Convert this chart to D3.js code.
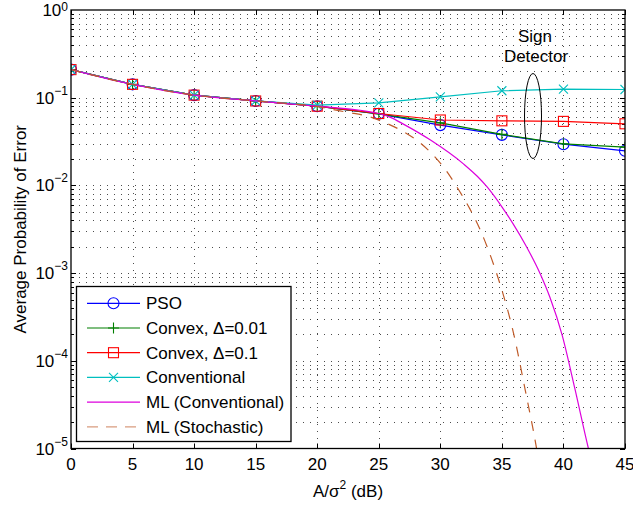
<!DOCTYPE html>
<html>
<head>
<meta charset="utf-8">
<script src="https://cdnjs.cloudflare.com/ajax/libs/d3/7.8.5/d3.min.js"></script>
<style>
  html, body { margin: 0; padding: 0; background: #fff; }
  svg { display: block; font-family: "Liberation Sans", Arial, Helvetica, sans-serif; }
</style>
</head>
<body>
<svg id="chart" width="633" height="507"></svg>
<script>
// ---------- data ----------
const snr = [0, 5, 10, 15, 20, 25, 30, 35, 40, 45];
const pso = [0.209, 0.142, 0.107, 0.0918, 0.080, 0.0655, 0.0487, 0.0377, 0.0295, 0.0248];
const convex001 = [0.209, 0.142, 0.107, 0.0918, 0.080, 0.0655, 0.0517, 0.0382, 0.0298, 0.0273];
const convex01 = [0.209, 0.142, 0.107, 0.0918, 0.080, 0.066, 0.0557, 0.0545, 0.0537, 0.0504];
const conventional = [0.209, 0.142, 0.107, 0.0918, 0.0824, 0.0875, 0.102, 0.120, 0.125, 0.124];

const mlConvX = [0, 5, 10, 15, 20, 25, 26, 27, 29.2, 31.9, 33.0, 33.8, 35.0, 35.9, 37.0, 38.1, 38.9, 39.9, 40.9, 42.0, 42.3];
const mlConvY = [0.209, 0.142, 0.107, 0.0918, 0.080, 0.066, 0.0593, 0.050, 0.0329, 0.0175, 0.0127, 0.0096, 0.0057, 0.00367, 0.0020, 9.9e-4, 5.3e-4, 1.95e-4, 5.0e-5, 1.04e-5, 7e-6];

const mlStochX = [0, 5, 10, 15, 20, 22.5, 24, 25.5, 27, 28.3, 29.3, 30.5, 31.6, 32.4, 33.2, 33.8, 34.4, 35.0, 35.9, 36.9, 37.8, 38.0];
const mlStochY = [0.209, 0.142, 0.107, 0.0918, 0.079, 0.068, 0.062, 0.052, 0.041, 0.031, 0.0231, 0.0146, 0.0084, 0.0054, 0.0032, 0.0020, 0.00117, 6.4e-4, 2.2e-4, 4.6e-5, 1.03e-5, 7e-6];

const xTicks = [0, 5, 10, 15, 20, 25, 30, 35, 40, 45];
const yTickExps = [0, -1, -2, -3, -4, -5];

const legendLabels = ["PSO", "Convex, \u0394=0.01", "Convex, \u0394=0.1", "Conventional", "ML (Conventional)", "ML (Stochastic)"];
const colors = ["#0000ff", "#007f00", "#ff0000", "#00bfbf", "#dd00dd", "#bf5a28"];
const markers = ["circle", "plus", "square", "cross", "none", "none"];

// ---------- layout ----------
const L = 71, R = 625, T = 10, B = 448.5;
const svg = d3.select("#chart");
const x = d3.scaleLinear().domain([0, 45]).range([L, R]);
const y = d3.scaleLog().domain([1e-5, 1]).range([B, T]);

// clip
svg.append("defs").append("clipPath").attr("id", "clip")
  .append("rect").attr("x", L).attr("y", T).attr("width", R - L).attr("height", B - T);

// ---------- grid ----------
const grid = svg.append("g").attr("stroke", "#000").attr("stroke-width", 1)
  .attr("stroke-dasharray", "1,6").attr("stroke-opacity", 0.7);
xTicks.slice(1, -1).forEach(t => {
  grid.append("line").attr("x1", Math.round(x(t)) + 0.5).attr("x2", Math.round(x(t)) + 0.5)
    .attr("y1", T + 1).attr("y2", B);
});
const yGridVals = [];
for (let e = -5; e < 0; e++) for (let m = 1; m <= 9; m++) yGridVals.push(m * Math.pow(10, e));
yGridVals.filter(v => v > 1e-5 * 1.0001).forEach(v => {
  grid.append("line").attr("x1", L + 1).attr("x2", R)
    .attr("y1", Math.round(y(v)) + 0.5).attr("y2", Math.round(y(v)) + 0.5);
});

// ---------- axes ticks ----------
const ticks = svg.append("g").attr("stroke", "#000").attr("stroke-width", 1);
xTicks.forEach(t => {
  const px = Math.round(x(t)) + 0.5;
  ticks.append("line").attr("x1", px).attr("x2", px).attr("y1", B).attr("y2", B - 5);
  ticks.append("line").attr("x1", px).attr("x2", px).attr("y1", T).attr("y2", T + 5);
});
yGridVals.forEach(v => {
  const py = Math.round(y(v)) + 0.5;
  const major = Math.abs(Math.log10(v) - Math.round(Math.log10(v))) < 1e-6;
  const len = major ? 5 : 3;
  ticks.append("line").attr("x1", L).attr("x2", L + len).attr("y1", py).attr("y2", py);
  ticks.append("line").attr("x1", R).attr("x2", R - len).attr("y1", py).attr("y2", py);
});

// x tick labels
svg.append("g").selectAll("text").data(xTicks).join("text")
  .attr("x", d => x(d)).attr("y", 470).attr("text-anchor", "middle")
  .attr("font-size", 17).attr("fill", "#000").text(d => d);

// y tick labels
const yl = svg.append("g");
yTickExps.forEach(e => {
  const t = yl.append("text").attr("x", 68).attr("y", y(Math.pow(10, e)) + 6)
    .attr("text-anchor", "end").attr("font-size", 17).attr("fill", "#000");
  t.append("tspan").text("10");
  t.append("tspan").attr("dy", e === 0 ? -5 : -9).attr("font-size", 12).text(e === 0 ? "0" : "\u2212" + (-e));
});

// axis labels
const xl = svg.append("text").attr("x", (L + R) / 2).attr("y", 497).attr("text-anchor", "middle")
  .attr("font-size", 17).attr("fill", "#000");
xl.append("tspan").text("A/\u03c3");
xl.append("tspan").attr("dy", -8).attr("font-size", 12).text("2");
xl.append("tspan").attr("dy", 8).text(" (dB)");

svg.append("text").attr("transform", `translate(26,${(T + B) / 2}) rotate(-90)`)
  .attr("text-anchor", "middle").attr("font-size", 17).attr("fill", "#000")
  .text("Average Probability of Error");

// ---------- series ----------
const plot = svg.append("g").attr("clip-path", "url(#clip)");
const lineGen = d3.line().x(d => x(d[0])).y(d => y(d[1]));
const smoothGen = d3.line().x(d => x(d[0])).y(d => y(d[1])).curve(d3.curveMonotoneX);

function drawMarker(g, type, cx, cy, color) {
  if (type === "circle") {
    g.append("circle").attr("cx", cx).attr("cy", cy).attr("r", 5.5)
      .attr("fill", "none").attr("stroke", color).attr("stroke-width", 1.1);
  } else if (type === "square") {
    g.append("rect").attr("x", cx - 5).attr("y", cy - 5).attr("width", 10).attr("height", 10)
      .attr("fill", "none").attr("stroke", color).attr("stroke-width", 1.1);
  } else if (type === "plus") {
    g.append("path").attr("d", `M${cx - 5.5},${cy}H${cx + 5.5}M${cx},${cy - 5.5}V${cy + 5.5}`)
      .attr("stroke", color).attr("stroke-width", 1.1);
  } else if (type === "cross") {
    g.append("path").attr("d", `M${cx - 4.5},${cy - 4.5}L${cx + 4.5},${cy + 4.5}M${cx - 4.5},${cy + 4.5}L${cx + 4.5},${cy - 4.5}`)
      .attr("stroke", color).attr("stroke-width", 1.1);
  }
}

const markerSeries = [pso, convex001, convex01, conventional];
markerSeries.forEach((vals, i) => {
  const pts = snr.map((s, j) => [s, vals[j]]);
  plot.append("path").attr("d", lineGen(pts)).attr("fill", "none")
    .attr("stroke", colors[i]).attr("stroke-width", 1.2);
  const mg = plot.append("g");
  pts.forEach(p => drawMarker(mg, markers[i], x(p[0]), y(p[1]), colors[i]));
});

plot.append("path").attr("d", smoothGen(mlConvX.map((v, j) => [v, mlConvY[j]])))
  .attr("fill", "none").attr("stroke", colors[4]).attr("stroke-width", 1.2);
plot.append("path").attr("d", smoothGen(mlStochX.map((v, j) => [v, mlStochY[j]])))
  .attr("fill", "none").attr("stroke", colors[5]).attr("stroke-width", 1.2)
  .attr("stroke-dasharray", "10,9");

// ---------- annotation ----------
svg.append("ellipse").attr("cx", 533).attr("cy", 116).attr("rx", 8.5).attr("ry", 42.5)
  .attr("fill", "none").attr("stroke", "#000").attr("stroke-width", 1);
svg.append("text").attr("x", 535).attr("y", 42).attr("text-anchor", "middle")
  .attr("font-size", 17).attr("fill", "#000").text("Sign");
svg.append("text").attr("x", 536).attr("y", 62).attr("text-anchor", "middle")
  .attr("font-size", 17).attr("fill", "#000").text("Detector");

// ---------- frame ----------
svg.append("rect").attr("x", L).attr("y", T).attr("width", R - L).attr("height", B - T)
  .attr("fill", "none").attr("stroke", "#000").attr("stroke-width", 1.3);

// ---------- legend ----------
const lg = svg.append("g");
lg.append("rect").attr("x", 76.5).attr("y", 286.5).attr("width", 214.5).attr("height", 155)
  .attr("fill", "#fff").attr("stroke", "#000").attr("stroke-width", 1.3);
legendLabels.forEach((lab, i) => {
  const ry = 303.3 + i * 24.7;
  const ln = lg.append("line").attr("x1", 87).attr("x2", 140).attr("y1", ry).attr("y2", ry)
    .attr("stroke", colors[i]).attr("stroke-width", 1.2);
  if (i === 5) ln.attr("stroke-dasharray", "11,8").attr("stroke-opacity", 0.6);
  drawMarker(lg, markers[i], 113.5, ry, colors[i]);
  lg.append("text").attr("x", 146).attr("y", ry + 6).attr("font-size", 17).attr("fill", "#000").text(lab);
});
</script>
</body>
</html>
